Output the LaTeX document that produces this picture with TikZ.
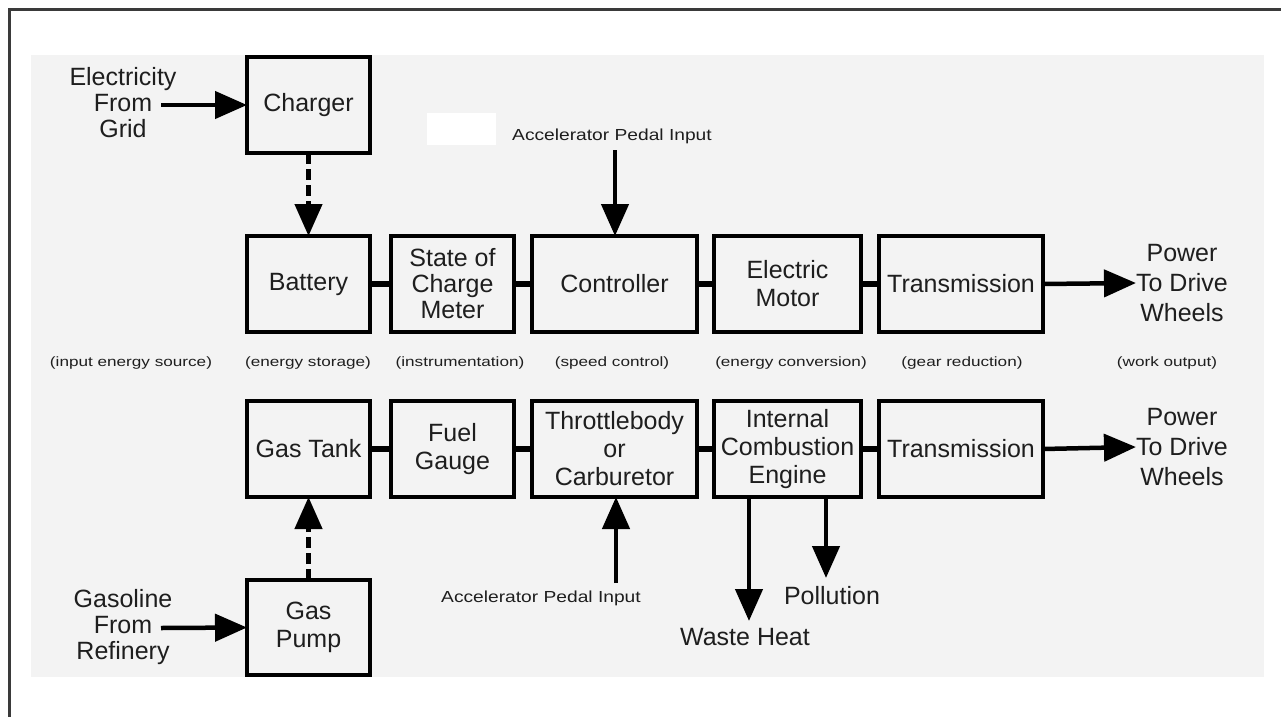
\documentclass[tikz,border=0pt]{standalone}
\usepackage{fontspec}
\setmainfont{Liberation Sans}
\usetikzlibrary{arrows.meta}
\definecolor{bg}{HTML}{F3F3F3}
\definecolor{txt}{HTML}{1E1E1E}
\definecolor{frame}{HTML}{3A3A3A}
\newcommand{\wide}[2]{\scalebox{#1}[1]{#2}}
\begin{document}
\begin{tikzpicture}[x=1pt,y=-1pt,
  box/.style={draw=black, line width=4pt, inner sep=0pt, outer sep=0pt, align=center,
    text=txt, font=\fontsize{25}{28}\selectfont, minimum height=96pt},
  big/.style={align=center, text=txt, inner sep=0pt, font=\fontsize{25}{26}\selectfont},
  small/.style={text=txt, inner sep=0pt, font=\fontsize{13.5}{16}\selectfont},
  pedal/.style={text=txt, inner sep=0pt, font=\fontsize{16}{18}\selectfont},
  link/.style={draw=black, line width=6pt},
  arr/.style={draw=black, line width=4.5pt, -{Triangle[length=32pt,width=27pt]}},
  dasharr/.style={arr, dash pattern=on 11pt off 5pt}]
\useasboundingbox (0,0) rectangle (1281,717);
\fill[white] (0,0) rectangle (1281,717);
\fill[bg] (31,55) rectangle (1264,677);
\fill[white] (427,113) rectangle (496,145);
\draw[line width=3pt, frame] (1281,10) -- (9,10) -- (9,717);

% ---- top row ----
\node[box, minimum width=123pt] (charger) at (308.5,105) {Charger};
\node[box, minimum width=123pt] (bat) at (308.5,284) {Battery};
\node[box, minimum width=123pt, font=\fontsize{25}{26}\selectfont] (soc) at (452.5,284) {State of\\Charge\\Meter};
\node[box, minimum width=165pt] (ctrl) at (614.5,284) {Controller};
\node[box, minimum width=147pt] (mot) at (787.5,284) {Electric\\Motor};
\node[box, minimum width=164pt] (tr1) at (961,284) {Transmission};
\node[big, font=\fontsize{25}{30}\selectfont] (pw1) at (1182,283) {Power\\To Drive\\Wheels};
\node[big] (elec) at (123,103) {Electricity\\From\\Grid};
\node[pedal] (acc1) at (612,136) {\wide{1.2}{Accelerator Pedal Input}};
\coordinate (acc1s) at (615,150);
\coordinate (elecs) at (161,105);

\draw[link] (bat) -- (soc);
\draw[link] (soc) -- (ctrl);
\draw[link] (ctrl) -- (mot);
\draw[link] (mot) -- (tr1);
\draw[arr] (elecs) -- (charger.west);
\draw[dasharr] (charger.south) -- (bat.north);
\draw[arr] (acc1s) -- (acc1s |- ctrl.north);
\draw[arr] (tr1.east) -- (pw1.west);

% ---- annotation row ----
\node[small] (l1) at (131,363) {\wide{1.27}{(input energy source)}};
\node[small] (l2) at (308,363) {\wide{1.27}{(energy storage)}};
\node[small] (l3) at (460,363) {\wide{1.27}{(instrumentation)}};
\node[small] (l4) at (612,363) {\wide{1.27}{(speed control)}};
\node[small] (l5) at (791,363) {\wide{1.27}{(energy conversion)}};
\node[small] (l6) at (962,363) {\wide{1.27}{(gear reduction)}};
\node[small] (l7) at (1167,363) {\wide{1.27}{(work output)}};

% ---- bottom row ----
\node[box, minimum width=123pt] (tank) at (308.5,449) {Gas Tank};
\node[box, minimum width=123pt] (gauge) at (452.5,449) {Fuel\\Gauge};
\node[box, minimum width=165pt] (thr) at (614.5,449) {Throttlebody\\or\\Carburetor};
\node[box, minimum width=147pt] (ice) at (787.5,449) {Internal\\Combustion\\Engine};
\node[box, minimum width=164pt] (tr2) at (961,449) {Transmission};
\node[big, font=\fontsize{25}{30}\selectfont] (pw2) at (1182,447) {Power\\To Drive\\Wheels};
\node[box, minimum width=123pt, minimum height=95pt] (pump) at (308.5,627.5) {Gas\\Pump};
\node[big] (gasl) at (123,627) {Gasoline\\From\\Refinery};
\node[pedal] (acc2) at (541,598) {\wide{1.2}{Accelerator Pedal Input}};
\node[big] (heat) at (745,637) {Waste Heat};
\node[big] (poll) at (832,596) {Pollution};
\coordinate (acc2s) at (616,583);
\coordinate (gass) at (161,628);
\coordinate (heattip) at (749,621);
\coordinate (polltip) at (826,578);

\draw[link] (tank) -- (gauge);
\draw[link] (gauge) -- (thr);
\draw[link] (thr) -- (ice);
\draw[link] (ice) -- (tr2);
\draw[arr] (tr2.east) -- (pw2.west);
\draw[arr] (gass) -- (pump.west);
\draw[dasharr] (pump.north) -- (tank.south);
\draw[arr] (acc2s) -- (acc2s |- thr.south);
\draw[arr] (heattip |- ice.south) -- (heattip);
\draw[arr] (polltip |- ice.south) -- (polltip);
\end{tikzpicture}
\end{document}
